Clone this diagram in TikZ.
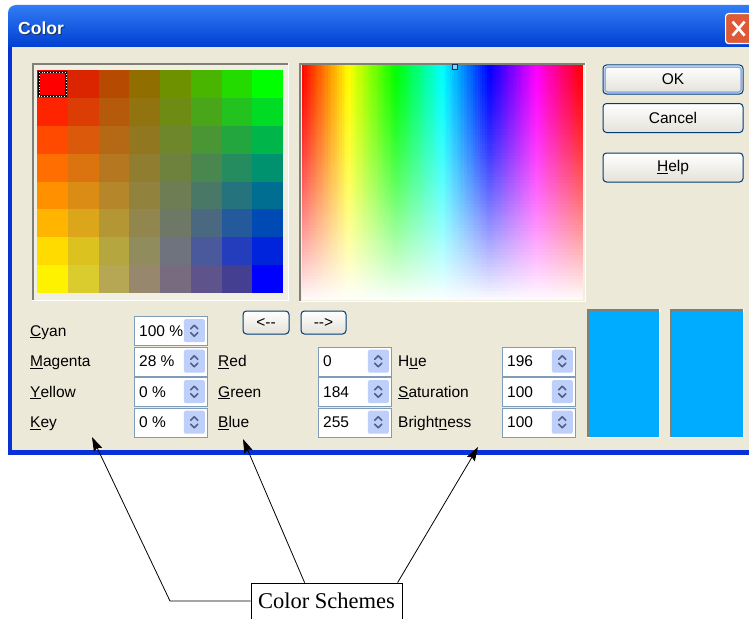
\documentclass[tikz,border=0pt]{standalone}
\usepackage{fontspec}
\setmainfont{Liberation Sans}
\newfontfamily\seriffont{Liberation Serif}
\usetikzlibrary{arrows.meta,calc}
\definecolor{beige}{RGB}{236,233,216}
\definecolor{beigelight}{RGB}{241,239,226}
\definecolor{xpblue}{RGB}{0,84,227}
\definecolor{xpbluelight}{RGB}{50,125,245}
\definecolor{xpbluedark}{RGB}{0,62,210}
\definecolor{xpborder}{RGB}{8,49,217}
\definecolor{boxborder}{RGB}{127,157,185}
\definecolor{spinfill}{RGB}{190,208,250}
\definecolor{spinarrow}{RGB}{77,97,133}
\definecolor{btnborder}{RGB}{0,60,116}
\definecolor{btnbottom}{RGB}{228,225,216}
\definecolor{focusblue}{RGB}{140,175,240}
\definecolor{swatch}{RGB}{0,172,255}
\definecolor{framedark}{RGB}{128,128,118}
\definecolor{closered}{RGB}{222,90,55}
\definecolor{markcol}{RGB}{20,50,90}
\newcommand\myspin[4]{%
  \node[sbox] (#1) at (#2,#3) {};
  \node[lbl] (#1v) at (#2+5,#3+20) {#4};
  \node[sbtn] (#1b) at (#2+71,#3+3) {};
  \draw[chev] ($(#1b.center)+(-3.5,-2)$) -- ++(3.5,-3.5) -- ++(3.5,3.5);
  \draw[chev] ($(#1b.center)+(-3.5,2)$) -- ++(3.5,3.5) -- ++(3.5,-3.5);
}
\begin{document}
\begin{tikzpicture}[x=1pt,y=-1pt,
  lbl/.style={anchor=base west, inner sep=0pt, font=\fontsize{15.5}{18}\selectfont},
  sbox/.style={draw=boxborder, fill=white, minimum width=73pt, minimum height=29pt, inner sep=0pt, anchor=north west, line width=1pt},
  sbtn/.style={fill=spinfill, minimum width=21pt, minimum height=23pt, inner sep=0pt, anchor=north east, rounded corners=1.5pt},
  chev/.style={draw=spinarrow, line width=1.6pt, line cap=round, line join=round},
  btn/.style={draw=btnborder, rounded corners=3.5pt, minimum width=140pt, minimum height=29pt, inner sep=0pt, top color=white, bottom color=btnbottom, font=\fontsize{15.5}{18}\selectfont, line width=1pt},
  pointer/.style={draw=black, line width=0.8pt, -{Stealth[length=14pt,width=9pt,inset=2pt]}}
]
\useasboundingbox (0,0) rectangle (749,618);
\fill[white] (0,0) rectangle (749,618);
% window frame
\fill[xpborder] (8,40) rectangle (760,455);
\shade[top color=xpbluelight, middle color=xpblue, bottom color=xpbluedark]
  (8,47) [rounded corners=8pt] -- (8,5) -- (760,5) [sharp corners] -- (760,47) -- cycle;
\fill[beige] (12,47) rectangle (760,450);
% title
\node[anchor=base west, inner sep=0pt, text=markcol, font=\bfseries\fontsize{17.5}{20}\selectfont] (titleshadow) at (19,36) {Color};
\node[anchor=base west, inner sep=0pt, text=white, font=\bfseries\fontsize{17.5}{20}\selectfont] (title) at (18,35) {Color};
% close button
\node[draw=white, line width=1.2pt, rounded corners=3pt, fill=closered, minimum width=26pt, minimum height=30pt, anchor=north west, inner sep=0pt] (close) at (725,13) {};
\draw[white, line width=2.6pt] ($(close.center)+(-6,-7)$) -- ($(close.center)+(6,7)$);
\draw[white, line width=2.6pt] ($(close.center)+(-6,7)$) -- ($(close.center)+(6,-7)$);
% colour grid
\fill[beigelight] (32,63) rectangle (289,301);
\draw[framedark, line width=2.5pt] (33.2,300) |- (288,64.2);
\draw[white, line width=1.2pt] (32,300.4) -| (288.4,63);
\foreach \i in {0,...,7}{
  \foreach \j in {0,...,7}{
    \pgfmathtruncatemacro\v{100-round(\j*100/7)}
    \pgfmathtruncatemacro\u{100-round(\i*100/7)}
    \colorlet{lc}{red!\v!yellow}
    \colorlet{rc}{green!\v!blue}
    \colorlet{cc}{lc!\u!rc}
    \fill[cc] (37+\i*30.75,70+\j*27.875) rectangle ++(30.9,28);
  }
}
\draw[black, line width=2pt] (39,72) rectangle (66,96);
\draw[white, line width=0.9pt, dotted] (39,72) rectangle (66,96);
% spectrum
\fill[beigelight] (299,63) rectangle (586,302);
\draw[framedark, line width=2.5pt] (300.2,301) |- (585,64.2);
\draw[white, line width=1.2pt] (299,301.4) -| (585.4,63);
\foreach \k in {0,...,119}{
  \pgfmathsetmacro\h{\k/120+0.004}
  \definecolor{hc}{hsb}{\h,1,1}
  \fill[hc] (302+\k*2.3417,65.5) rectangle ++(2.7,234);
}
\foreach \m in {0,...,77}{
  \pgfmathsetmacro\op{0.985*((\m+0.5)/78)^1.45}
  \fill[white, fill opacity=\op] (302,65.5+\m*3) rectangle (583,68.5+\m*3);
}
\draw[markcol, line width=1pt, fill=cyan!50] (452,64.5) rectangle (457,69.5);
% buttons
\node[btn] (ok) at (673,79.5) {OK};
\draw[focusblue, line width=1.5pt, rounded corners=2.5pt] (605,67) rectangle (741,92);
\node[btn] (cancel) at (673,118) {Cancel};
\node[btn] (help) at (673,167.5) {\underline{H}elp};
\node[btn, minimum width=46pt, minimum height=23pt] (toleft) at (266,322.5) {<-{}-};
\node[btn, minimum width=45pt, minimum height=23pt] (toright) at (323.5,322.5) {-{}->};
% swatches
\fill[swatch] (587,309) rectangle (659,437);
\draw[framedark, line width=2pt] (588,437) |- (659,310);
\draw[white, line width=1.5pt] (587,437.5) -| (659.5,309);
\fill[swatch] (670,309) rectangle (743,437);
\draw[framedark, line width=2pt] (671,437) |- (743,310);
\draw[white, line width=1.5pt] (670,437.5) -| (743.5,309);
% labels
\node[lbl] (cyan) at (30,336) {\underline{C}yan};
\node[lbl] (magenta) at (30,366.5) {\underline{M}agenta};
\node[lbl] (yellow) at (30,397) {\underline{Y}ellow};
\node[lbl] (key) at (30,427.5) {\underline{K}ey};
\node[lbl] (red) at (218,366.5) {\underline{R}ed};
\node[lbl] (green) at (218,397) {\underline{G}reen};
\node[lbl] (blue) at (218,427.5) {\underline{B}lue};
\node[lbl] (hue) at (398,366.5) {H\underline{u}e};
\node[lbl] (sat) at (398,397) {\underline{S}aturation};
\node[lbl] (bri) at (398,427.5) {Bright\underline{n}ess};
% spin boxes
\myspin{cyanbox}{134}{316}{100 \%}
\myspin{magbox}{134}{346.5}{28 \%}
\myspin{yelbox}{134}{377}{0 \%}
\myspin{keybox}{134}{407.5}{0 \%}
\myspin{redbox}{318}{346.5}{0}
\myspin{greenbox}{318}{377}{184}
\myspin{bluebox}{318}{407.5}{255}
\myspin{huebox}{502}{346.5}{196}
\myspin{satbox}{502}{377}{100}
\myspin{bribox}{502}{407.5}{100}
% callout
\node[draw=black, line width=0.8pt, fill=white, minimum width=151pt, minimum height=36pt, inner sep=0pt, font=\seriffont\fontsize{22.5}{26}\selectfont] (cs) at (326.5,601) {Color Schemes};
\coordinate (bendA) at (170,601);
\coordinate (tipA) at (92,437);
\coordinate (tipB) at (243,439);
\coordinate (tipC) at (478,447);
\draw[pointer] (cs.west) -- (bendA) -- (tipA);
\draw[pointer] ($(cs.north west)+(54,0)$) -- (tipB);
\draw[pointer] ($(cs.north west)+(147,0)$) -- (tipC);
\end{tikzpicture}
\end{document}
